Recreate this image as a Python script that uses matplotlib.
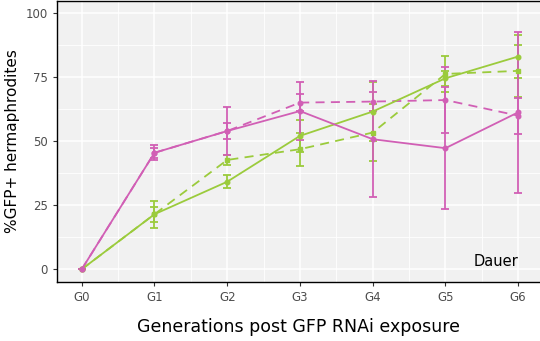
import matplotlib
matplotlib.use("Agg")
import matplotlib.pyplot as plt
import numpy as np

gens = ["G0", "G1", "G2", "G3", "G4", "G5", "G6"]

mag_solid = [0, 45.5, 54.0, 61.8, 50.8, 47.3, 61.3]
mag_solid_err = [0, 2.9, 9.4, 11.5, 22.6, 23.8, 31.5]
mag_dash = [0, 45.5, 54.0, 65.1, 65.5, 66.1, 60.0]
mag_dash_err = [0, 2.0, 3.0, 3.4, 3.8, 12.8, 7.0]
grn_solid = [0, 21.5, 34.2, 52.1, 61.6, 74.6, 83.1]
grn_solid_err = [0, 5.2, 2.6, 6.2, 11.4, 3.0, 8.4]
grn_dash = [0, 21.5, 42.7, 46.9, 53.4, 76.3, 77.5]
grn_dash_err = [0, 3.0, 2.0, 6.5, 11.0, 7.1, 10.1]

magenta = "#D15FB5"
green = "#9BCB3C"

fig = plt.figure(figsize=(5.4, 3.41), dpi=100)
ax = fig.add_axes([57/540, 59.3/341, 483/540, 281/341])
ax.set_facecolor("#F1F1F1")

x = np.arange(len(gens))

def serie(y, err, color, dashed, marker):
    ls = (0, (5, 3.5)) if dashed else "-"
    eb = ax.errorbar(x, y, yerr=err, color=color, lw=1.3, ls=ls, marker=marker,
                     ms=3.3, capsize=2.6, capthick=1.3, elinewidth=1.3, zorder=3)
    eb[-1][0].set_linestyle("-")

serie(grn_dash, grn_dash_err, green, True, "s")
serie(mag_dash, mag_dash_err, magenta, True, "o")
serie(grn_solid, grn_solid_err, green, False, "o")
serie(mag_solid, mag_solid_err, magenta, False, "o")

ax.set_xlim(-0.34, 6.30)
ax.set_ylim(-4.85, 104.9)
ax.set_xticks(x)
ax.set_xticklabels(gens)
ax.set_yticks([0, 25, 50, 75, 100])
ax.set_xticks(x[:-1] + 0.5, minor=True)
ax.set_yticks(np.arange(12.5, 100, 25), minor=True)
ax.grid(which="major", color="white", lw=1.1)
ax.grid(which="minor", color="white", lw=0.6)
ax.set_axisbelow(True)
ax.tick_params(axis="both", which="major", labelsize=8.5, colors="#333333",
               labelcolor="#4D4D4D", length=3, width=0.8)
ax.tick_params(axis="both", which="minor", length=0)
for s in ["left", "bottom", "top"]:
    ax.spines[s].set_color("black")
    ax.spines[s].set_linewidth(1.0)
ax.spines["right"].set_visible(False)

ax.set_ylabel("%GFP+ hermaphrodites", fontsize=11, labelpad=4)
ax.set_xlabel("Generations post GFP RNAi exposure", fontsize=12.5, labelpad=10)
ax.text(6.0, 3.2, "Dauer", fontsize=10.5, ha="right", va="center")

fig.savefig("out.png", dpi=100)
